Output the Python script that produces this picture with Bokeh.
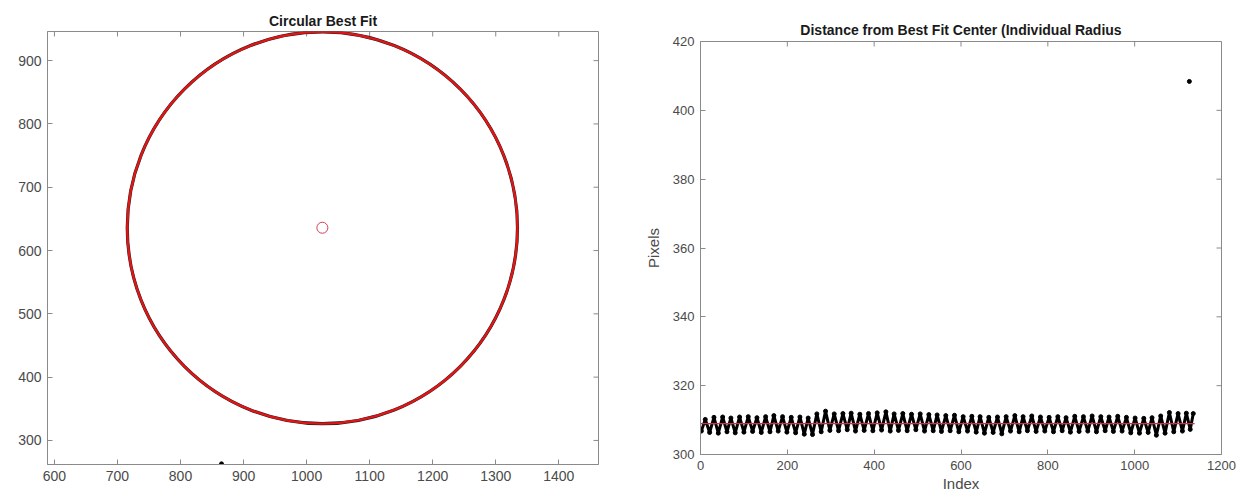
from bokeh.plotting import figure
from bokeh.layouts import row, column
from bokeh.models import Range1d, FixedTicker
from bokeh.embed import file_html
from bokeh.resources import INLINE

# ---------------- data: left panel (circular best fit) ----------------
fit_center_x = [1025.0]
fit_center_y = [636.0]
fit_radius = 309.5
outlier_pt_x = [865.0]
outlier_pt_y = [263.0]
left_xticks = [600, 700, 800, 900, 1000, 1100, 1200, 1300, 1400]
left_yticks = [300, 400, 500, 600, 700, 800, 900]

# ---------------- data: right panel (individual radius) ----------------
trough_idx = [2, 21, 41, 61, 80, 100, 120, 140, 160, 179, 199, 219, 239, 258, 278, 298,
              318, 338, 357, 377, 397, 417, 437, 456, 476, 496, 516, 536, 555, 575, 595,
              615, 635, 654, 674, 694, 714, 734, 753, 773, 793, 813, 833, 852, 872, 892,
              912, 932, 951, 971, 991, 1011, 1031, 1050, 1070, 1090, 1110, 1128]
trough_val = [306.8, 306.4, 306.2, 306.6, 306.3, 306.5, 306.7, 306.4, 306.6, 306.8, 306.5,
              306.3, 305.9, 305.8, 306.6, 307.0, 306.9, 307.2, 306.8, 307.0, 306.9, 307.1,
              306.8, 307.0, 306.9, 307.2, 306.8, 306.9, 306.7, 306.9, 306.6, 306.8, 306.5,
              306.2, 306.4, 306.0, 306.8, 306.6, 306.9, 306.7, 306.8, 306.6, 306.9, 306.5,
              306.7, 306.8, 306.6, 306.9, 306.7, 306.8, 306.3, 306.2, 306.4, 305.6, 306.2,
              306.6, 306.8, 307.3]
peak_idx = [11, 31, 51, 70, 90, 110, 130, 150, 169, 189, 209, 229, 248, 268, 288, 308,
            328, 347, 367, 387, 407, 427, 446, 466, 486, 506, 526, 545, 565, 585, 605,
            625, 644, 664, 684, 704, 724, 743, 763, 783, 803, 823, 842, 862, 882, 902,
            922, 941, 961, 981, 1001, 1021, 1040, 1060, 1080, 1100, 1119, 1135]
peak_val = [310.2, 310.8, 310.9, 310.6, 310.9, 311.0, 310.7, 311.0, 311.3, 311.0, 310.8,
            310.9, 310.6, 311.8, 312.6, 311.8, 311.9, 312.0, 311.7, 311.9, 312.1, 312.4,
            311.8, 311.9, 311.7, 311.8, 311.6, 311.5, 311.3, 311.4, 311.0, 311.1, 311.0,
            310.8, 310.9, 311.0, 311.3, 311.0, 311.2, 310.9, 310.8, 311.0, 310.7, 311.1,
            311.0, 311.2, 311.0, 310.9, 311.1, 310.8, 310.6, 310.5, 310.7, 311.2, 312.2,
            311.9, 312.0, 311.9]
outlier_idx = [1126]
outlier_val = [408.4]
mean_line_idx = [0, 1138]
mean_line_val = [309.0, 309.0]
right_xticks = [0, 200, 400, 600, 800, 1000, 1200]
right_yticks = [300, 320, 340, 360, 380, 400, 420]

FONT = "Liberation Sans"
AX_COL = "#8a8a8a"
LBL_COL = "#4a4a4a"
TICK_PX = 5


def style(p, xt, yt, xr, yr, fw, fh, label_size, title_standoff):
    p.xaxis.ticker = FixedTicker(ticks=xt)
    p.yaxis.ticker = FixedTicker(ticks=yt)
    for ax in p.axis:
        ax.axis_line_color = AX_COL
        ax.axis_line_width = 1
        ax.major_tick_line_color = AX_COL
        ax.major_tick_in = TICK_PX
        ax.major_tick_out = 0
        ax.minor_tick_line_color = None
        ax.major_label_text_font = FONT
        ax.major_label_text_font_size = label_size
        ax.major_label_text_color = LBL_COL
        ax.major_label_standoff = 6
        ax.axis_label_text_font = FONT
        ax.axis_label_text_font_style = "normal"
        ax.axis_label_text_font_size = "15px"
        ax.axis_label_text_color = LBL_COL
    p.xgrid.visible = False
    p.ygrid.visible = False
    p.outline_line_color = AX_COL
    p.title.align = "center"
    p.title.text_font = FONT
    p.title.text_font_style = "bold"
    p.title.text_font_size = "14px"
    p.title.text_color = "#1a1a1a"
    p.title.standoff = title_standoff
    # inward tick marks on top and right edges (box on)
    dy = TICK_PX * (yr[1] - yr[0]) / fh
    dx = TICK_PX * (xr[1] - xr[0]) / fw
    tx = [t for t in xt if xr[0] <= t <= xr[1]]
    ty = [t for t in yt if yr[0] <= t <= yr[1]]
    p.segment(x0=tx, y0=[yr[1]] * len(tx), x1=tx, y1=[yr[1] - dy] * len(tx),
              line_color=AX_COL, line_width=1)
    p.segment(x0=[xr[1]] * len(ty), y0=ty, x1=[xr[1] - dx] * len(ty), y1=ty,
              line_color=AX_COL, line_width=1)


# ---------------- left figure ----------------
L_XR, L_YR = (589, 1463), (262, 946)
L_B = dict(left=47, right=22, top=31, bottom=40)
L_W, L_H = 620, 504
p1 = figure(width=L_W, height=L_H, output_backend="svg", toolbar_location=None,
            title="Circular Best Fit",
            x_range=Range1d(*L_XR), y_range=Range1d(*L_YR),
            min_border_left=L_B["left"], min_border_right=L_B["right"],
            min_border_top=L_B["top"], min_border_bottom=L_B["bottom"])
style(p1, left_xticks, left_yticks, L_XR, L_YR,
      L_W - L_B["left"] - L_B["right"], L_H - L_B["top"] - L_B["bottom"], "14px", 6)
p1.ellipse(x=fit_center_x, y=fit_center_y, width=2 * fit_radius, height=2 * fit_radius,
           fill_color=None, line_color="#222222", line_width=3.2)
p1.ellipse(x=fit_center_x, y=fit_center_y, width=2 * fit_radius, height=2 * fit_radius,
           fill_color=None, line_color="#e01515", line_width=2.4)
p1.scatter(x=fit_center_x, y=fit_center_y, marker="circle", size=11,
           fill_color=None, line_color="#d0405a", line_width=1)
p1.scatter(x=outlier_pt_x, y=outlier_pt_y, marker="circle", size=4,
           fill_color="black", line_color="black")

# ---------------- right figure ----------------
pts = sorted(zip(trough_idx + peak_idx, trough_val + peak_val))
xs = [a for a, b in pts]
ys = [b for a, b in pts]

R_XR, R_YR = (0, 1200), (300, 420)
R_B = dict(left=80, right=33, top=41, bottom=50)
R_W, R_H = 634, 504
p2 = figure(width=R_W, height=R_H, output_backend="svg", toolbar_location=None,
            title="Distance from Best Fit Center (Individual Radius",
            x_range=Range1d(*R_XR), y_range=Range1d(*R_YR),
            min_border_left=R_B["left"], min_border_right=R_B["right"],
            min_border_top=R_B["top"], min_border_bottom=R_B["bottom"])
style(p2, right_xticks, right_yticks, R_XR, R_YR,
      R_W - R_B["left"] - R_B["right"], R_H - R_B["top"] - R_B["bottom"], "13px", 8)
p2.below[0].axis_label = "Index"
p2.left[0].axis_label = "Pixels"
p2.below[0].axis_label_standoff = 2
p2.left[0].axis_label_standoff = 8
p2.line(x=xs, y=ys, line_color="black", line_width=3)
p2.scatter(x=xs, y=ys, marker="circle", size=4, fill_color="black", line_color="black")
p2.line(x=mean_line_idx, y=mean_line_val, line_color="#c8324e", line_width=1.2)
p2.scatter(x=outlier_idx, y=outlier_val, marker="circle", size=4,
           fill_color="black", line_color="black")

layout = row(column(p1), column(p2), spacing=0)
open("out.html", "w").write(file_html(layout, INLINE))
